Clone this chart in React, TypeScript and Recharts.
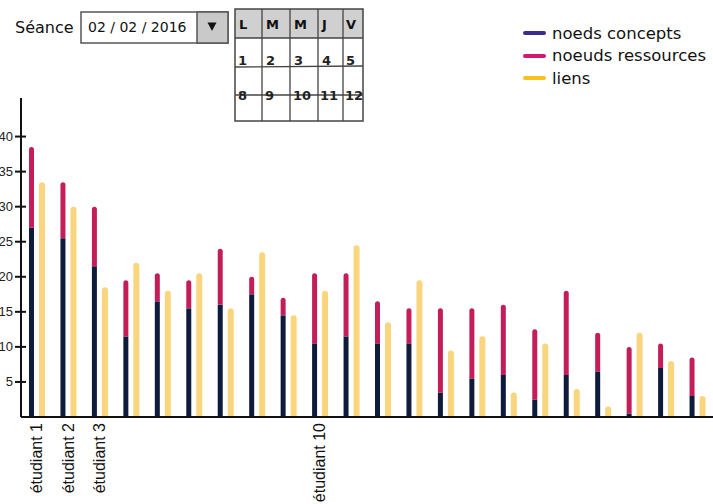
import { BarChart, Bar, XAxis, YAxis, Legend } from 'recharts';

const students = [
  'étudiant 1', 'étudiant 2', 'étudiant 3', 'étudiant 4', 'étudiant 5', 'étudiant 6',
  'étudiant 7', 'étudiant 8', 'étudiant 9', 'étudiant 10', 'étudiant 11', 'étudiant 12',
  'étudiant 13', 'étudiant 14', 'étudiant 15', 'étudiant 16', 'étudiant 17', 'étudiant 18',
  'étudiant 19', 'étudiant 20', 'étudiant 21', 'étudiant 22',
];
const conceptNodes = [27, 25.5, 21.5, 11.5, 16.5, 15.5, 16, 17.5, 14.5, 10.5, 11.5, 10.5, 10.5, 3.5, 5.5, 6, 2.5, 6, 6.5, 0.5, 7, 3];
const resourceNodes = [11.5, 8, 8.5, 8, 4, 4, 8, 2.5, 2.5, 10, 9, 6, 5, 12, 10, 10, 10, 12, 5.5, 9.5, 3.5, 5.5];
const links = [33.5, 30, 18.5, 22, 18, 20.5, 15.5, 23.5, 14.5, 18, 24.5, 13.5, 19.5, 9.5, 11.5, 3.5, 10.5, 4, 1.5, 12, 8, 3];
const yTicks = [5, 10, 15, 20, 25, 30, 35, 40];
const shownLabels = ['étudiant 1', 'étudiant 2', 'étudiant 3', 'étudiant 10'];

const weekDays = ['L', 'M', 'M', 'J', 'V'];
const week1 = ['1', '2', '3', '4', '5'];
const week2 = ['8', '9', '10', '11', '12'];

const legendOrder = ['concepts', 'ressources', 'liens'];
const legendColors: Record<string, string> = {
  concepts: '#3a2d8c',
  ressources: '#d41a6e',
  liens: '#f7c21c',
};

const data = students.map((name, i) => ({
  name,
  concepts: conceptNodes[i],
  ressources: resourceNodes[i],
  liens: links[i],
}));

const sketchFont = '"DejaVu Sans", sans-serif';

function StudentTick({ x, y, payload }: any) {
  if (!shownLabels.includes(payload.value)) return <g />;
  return (
    <text
      x={x}
      y={y}
      dx={-6}
      dy="0.35em"
      transform={`rotate(-90 ${x} ${y})`}
      textAnchor="end"
      fontSize={16}
      fontFamily="'Liberation Sans', Arial, sans-serif"
      fill="#111"
    >
      {payload.value}
    </text>
  );
}

function ValueTick({ x, y, payload }: any) {
  return (
    <g>
      <line x1={x - 6} x2={x + 5} y1={y} y2={y} stroke="#111" strokeWidth={2} />
      <text
        x={x - 8}
        y={y}
        dy="0.35em"
        textAnchor="end"
        fontSize={13}
        fontFamily="'Liberation Sans', Arial, sans-serif"
        fill="#222"
      >
        {payload.value}
      </text>
    </g>
  );
}

function SketchLegend({ payload }: any) {
  const items = [...(payload || [])].sort(
    (a: any, b: any) => legendOrder.indexOf(a.dataKey) - legendOrder.indexOf(b.dataKey)
  );
  return (
    <div>
      {items.map((entry: any) => (
        <div key={entry.dataKey} style={{ display: 'flex', alignItems: 'center', height: 22.5 }}>
          <span
            style={{
              display: 'inline-block',
              width: 23,
              height: 4,
              borderRadius: 2,
              background: legendColors[entry.dataKey],
              marginRight: 6,
            }}
          />
          <span style={{ fontFamily: sketchFont, fontSize: 16.5, color: '#111' }}>{entry.value}</span>
        </div>
      ))}
    </div>
  );
}

function SessionPicker() {
  return (
    <svg width={380} height={130} style={{ position: 'absolute', left: 0, top: 0 }}>
      <text x={15} y={33} fontSize={16} fontFamily={sketchFont} fill="#111">Séance</text>
      <rect x={81} y={12} width={147} height={31} fill="#fff" stroke="#555" strokeWidth={1.5} />
      <rect x={197} y={12} width={31} height={31} fill="#c9c9c9" stroke="#555" strokeWidth={1.5} />
      <path d="M207.5 22.5 L216.5 22.5 L212 31 Z" fill="#111" />
      <text x={88} y={32} fontSize={14} fontFamily={sketchFont} fill="#111">02 / 02 / 2016</text>

      <rect x={235} y={9} width={128} height={29} fill="#d0d0d0" />
      <rect x={235} y={9} width={128} height={112} fill="none" stroke="#444" strokeWidth={1.5} />
      <line x1={235} x2={363} y1={38} y2={38} stroke="#444" strokeWidth={1.5} />
      <line x1={235} x2={363} y1={67} y2={66} stroke="#444" strokeWidth={1.3} />
      <line x1={235} x2={363} y1={95} y2={95} stroke="#444" strokeWidth={1.3} />
      {[262, 290, 318, 343].map((cx) => (
        <line key={cx} x1={cx} x2={cx} y1={9} y2={121} stroke="#444" strokeWidth={1.3} />
      ))}
      {weekDays.map((d, i) => (
        <text key={'d' + i} x={[239, 266, 294, 322, 346][i]} y={29} fontSize={13} fontWeight="bold" fontFamily={sketchFont} fill="#111">
          {d}
        </text>
      ))}
      {week1.map((d, i) => (
        <text key={'a' + i} x={[238, 266, 294, 322, 346][i]} y={65} fontSize={13} fontWeight="bold" fontFamily={sketchFont} fill="#222">
          {d}
        </text>
      ))}
      {week2.map((d, i) => (
        <text key={'b' + i} x={[238, 265, 293, 320, 345][i]} y={100} fontSize={13} fontWeight="bold" fontFamily={sketchFont} fill="#222">
          {d}
        </text>
      ))}
    </svg>
  );
}

export default function App() {
  return (
    <div style={{ position: 'absolute', left: 0, top: 0, width: 713, height: 504, overflow: 'hidden', background: '#fff' }}>
      <BarChart
        width={713}
        height={504}
        data={data}
        margin={{ top: 98, right: 0, bottom: 0, left: 0 }}
        barGap={5}
      >
        <XAxis
          dataKey="name"
          interval={0}
          tickLine={false}
          tickSize={0}
          tickMargin={0}
          height={87}
          axisLine={{ stroke: '#111', strokeWidth: 2 }}
          tick={<StudentTick />}
        />
        <YAxis
          width={21}
          domain={[0, 45.5]}
          ticks={yTicks}
          tickLine={false}
          tickSize={0}
          tickMargin={0}
          axisLine={{ stroke: '#111', strokeWidth: 2 }}
          tick={<ValueTick />}
        />
        <Legend
          layout="horizontal"
          verticalAlign="middle"
          align="center"
          content={<SketchLegend />}
          wrapperStyle={{ position: 'absolute', left: 523, top: 22, width: 190, height: 70 }}
        />
        <Bar dataKey="concepts" name="noeds concepts" stackId="a" fill="#0d1b3c" barSize={5} isAnimationActive={false} />
        <Bar dataKey="ressources" name="noeuds ressources" stackId="a" fill="#c41e5a" barSize={5} radius={[2.5, 2.5, 0, 0]} isAnimationActive={false} />
        <Bar dataKey="liens" name="liens" fill="#f9d57d" barSize={6} radius={[3, 3, 0, 0]} isAnimationActive={false} />
      </BarChart>
      <SessionPicker />
    </div>
  );
}
